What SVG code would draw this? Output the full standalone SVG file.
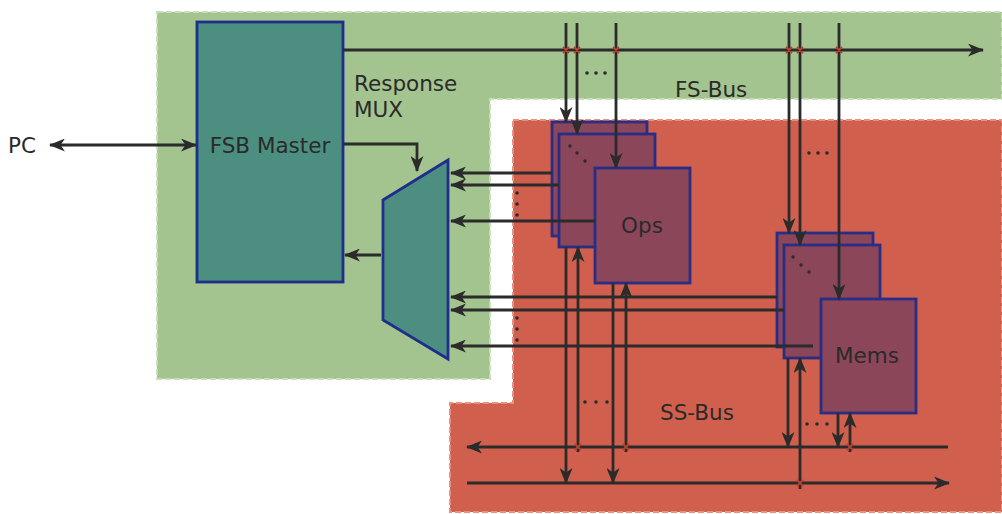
<svg xmlns="http://www.w3.org/2000/svg" width="1002" height="514" viewBox="0 0 1002 514">
<defs>
<style>
.t{font-family:"DejaVu Sans","Liberation Sans",sans-serif;font-size:21.5px;fill:#2a2a2a}
.ln{stroke:#2b2b2b;stroke-width:2.8;fill:none}
.ar{stroke:#2b2b2b;stroke-width:2.8;fill:none;marker-end:url(#ah)}
.box{stroke:#1f2d8c;stroke-width:2.8}
.pb{fill:#8b4759;stroke:#2a2d85;stroke-width:2.8}
.jn{stroke:#b8402e;stroke-width:1.8}
.dot{fill:#2b2b2b}
</style>
<marker id="ah" viewBox="0 0 16 13" refX="15" refY="6.5" markerWidth="16" markerHeight="13" markerUnits="userSpaceOnUse" orient="auto-start-reverse">
<path d="M0,0 L16,6.5 L0,13 L4.5,6.5 z" fill="#2b2b2b"/>
</marker>
</defs>
<rect width="1002" height="514" fill="#ffffff"/>
<g id="fs-region">
<polygon points="157,12 1002,12 1002,99 490,99 490,379 157,379" fill="#a3c38f" stroke="#c9ddb9" stroke-width="2" stroke-dasharray="6 3"/>
</g>
<g id="ss-region">
<polygon points="513,120 1002,120 1002,512 450,512 450,403 513,403" fill="#d0604d" stroke="#e69283" stroke-width="2" stroke-dasharray="6 3"/>
</g>
<g id="fsb-master">
<rect x="197" y="22" width="146" height="260" fill="#4c8f80" class="box"/>
<text class="t" x="270" y="153" text-anchor="middle">FSB Master</text>
</g>
<g id="response-mux">
<polygon points="383,200 448,160 448,359 383,320" fill="#4c8f80" class="box"/>
<text class="t" x="354" y="91">Response</text>
<text class="t" x="354" y="117">MUX</text>
</g>
<g id="ops">
<rect x="552" y="122" width="95" height="114" class="pb"/>
<rect x="559" y="134" width="96" height="113" class="pb"/>
<rect x="595" y="168" width="95" height="115" class="pb"/>
<circle class="dot" cx="570" cy="146" r="1.7"/>
<circle class="dot" cx="577" cy="153" r="1.7"/>
<circle class="dot" cx="585" cy="161" r="1.7"/>
<text class="t" x="642" y="233" text-anchor="middle">Ops</text>
</g>
<g id="mems">
<rect x="777" y="233" width="96" height="114" class="pb"/>
<rect x="784" y="245" width="96" height="113" class="pb"/>
<rect x="821" y="299" width="95" height="114" class="pb"/>
<circle class="dot" cx="793" cy="257" r="1.7"/>
<circle class="dot" cx="801" cy="265" r="1.7"/>
<circle class="dot" cx="809" cy="272" r="1.7"/>
<text class="t" x="867" y="363" text-anchor="middle">Mems</text>
</g>
<g id="labels">
<text class="t" x="8" y="153">PC</text>
<text class="t" x="675" y="97">FS-Bus</text>
<text class="t" x="660" y="420">SS-Bus</text>
</g>
<g id="connectors">
<line class="ar" x1="50" y1="145" x2="196" y2="145" style="marker-start:url(#ah)"/>
<line class="ar" x1="343" y1="50" x2="983" y2="50"/>
<polyline class="ar" points="343,144 417,144 417,171"/>
<line class="ar" x1="381" y1="255" x2="345" y2="255"/>
<line class="ar" x1="566" y1="23" x2="566" y2="122"/>
<line class="ar" x1="577" y1="23" x2="577" y2="134"/>
<line class="ar" x1="616" y1="23" x2="616" y2="168"/>
<line class="ar" x1="789" y1="23" x2="789" y2="233"/>
<line class="ar" x1="800" y1="23" x2="800" y2="245"/>
<line class="ar" x1="839" y1="23" x2="839" y2="299"/>
<line class="ar" x1="552" y1="173" x2="451" y2="173"/>
<line class="ar" x1="559" y1="185" x2="451" y2="185"/>
<line class="ar" x1="595" y1="221" x2="451" y2="221"/>
<line class="ar" x1="777" y1="297" x2="451" y2="297"/>
<line class="ar" x1="784" y1="310" x2="451" y2="310"/>
<line class="ar" x1="813" y1="346" x2="451" y2="346"/>
<line class="ar" x1="948" y1="447" x2="467" y2="447"/>
<line class="ar" x1="467" y1="483" x2="949" y2="483"/>
<line class="ar" x1="566" y1="247" x2="566" y2="483"/>
<line class="ar" x1="578" y1="452" x2="578" y2="247"/>
<line class="ar" x1="613" y1="283" x2="613" y2="483"/>
<line class="ar" x1="626" y1="452" x2="626" y2="283"/>
<line class="ar" x1="788" y1="358" x2="788" y2="447"/>
<line class="ar" x1="800" y1="489" x2="800" y2="358"/>
<line class="ar" x1="838" y1="413" x2="838" y2="447"/>
<line class="ar" x1="850" y1="452" x2="850" y2="413"/>
<g class="dot">
<circle cx="587" cy="73" r="1.8"/><circle cx="596" cy="73" r="1.8"/><circle cx="605" cy="73" r="1.8"/>
<circle cx="809" cy="153" r="1.8"/><circle cx="818" cy="153" r="1.8"/><circle cx="827" cy="153" r="1.8"/>
<circle cx="585" cy="402" r="1.8"/><circle cx="596" cy="402" r="1.8"/><circle cx="607" cy="402" r="1.8"/>
<circle cx="807" cy="424" r="1.8"/><circle cx="817" cy="424" r="1.8"/><circle cx="827" cy="424" r="1.8"/>
<circle cx="517" cy="193" r="1.8"/><circle cx="517" cy="204" r="1.8"/><circle cx="517" cy="215" r="1.8"/>
<circle cx="517" cy="318" r="1.8"/><circle cx="517" cy="329" r="1.8"/><circle cx="517" cy="340" r="1.8"/>
</g>
<g class="jn">
<path d="M563,47 l6,6 M569,47 l-6,6 M574,47 l6,6 M580,47 l-6,6 M613,47 l6,6 M619,47 l-6,6 M786,47 l6,6 M792,47 l-6,6 M797,47 l6,6 M803,47 l-6,6 M836,47 l6,6 M842,47 l-6,6"/>
<path d="M575,444 l6,6 M581,444 l-6,6 M623,444 l6,6 M629,444 l-6,6 M847,444 l6,6 M853,444 l-6,6 M797,480 l6,6 M803,480 l-6,6"/>
</g>
</g>
</svg>
